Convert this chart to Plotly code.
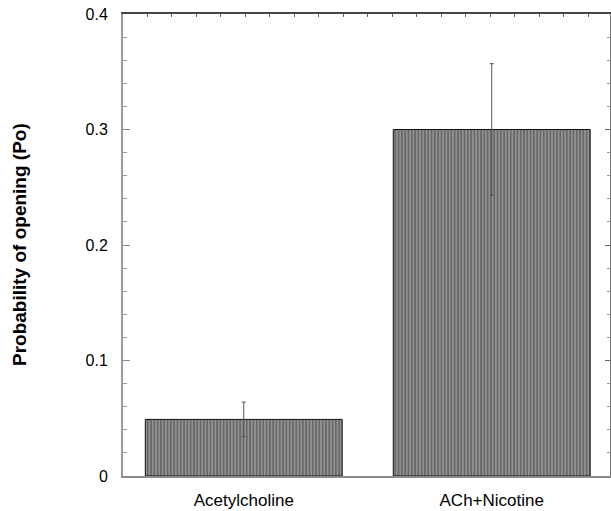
import plotly.graph_objects as go

categories = ["Acetylcholine", "ACh+Nicotine"]
values = [0.049, 0.300]
errors = [0.015, 0.057]
ytick_vals = [0, 0.1, 0.2, 0.3, 0.4]
ytick_text = ["0", "0.1", "0.2", "0.3", "0.4"]

FONT = "Liberation Sans, Arial, Helvetica, sans-serif"

fig = go.Figure()
fig.add_trace(go.Bar(
    x=categories, y=values,
    width=0.794,
    marker=dict(
        color="#d0d0d0",
        line=dict(color="#111111", width=1),
        pattern=dict(shape="|", fgcolor="#000000", size=3.3, solidity=0.8),
    ),
    error_y=dict(type="data", array=errors, visible=True,
                 color="#555555", thickness=1, width=2),
    showlegend=False,
))
# invisible trace for frame axes (top / right)
fig.add_trace(go.Scatter(x=[0], y=[0], xaxis="x2", yaxis="y2",
                         mode="markers", marker=dict(opacity=0),
                         showlegend=False, hoverinfo="skip"))

fig.update_layout(
    width=611, height=511,
    margin=dict(l=123, r=1, t=14, b=32),
    paper_bgcolor="white", plot_bgcolor="white",
    font=dict(family=FONT, size=16, color="black"),
    xaxis=dict(
        type="category", range=[-0.487, 1.477],
        showline=True, linecolor="#8a8a8a", linewidth=2,
        ticks="", showgrid=False, zeroline=False,
        ticklabelstandoff=8,
        tickfont=dict(size=17),
    ),
    yaxis=dict(
        range=[0, 0.4], tickvals=ytick_vals, ticktext=ytick_text,
        showline=True, linecolor="#9a9a9a", linewidth=2,
        ticks="inside", ticklen=7, tickcolor="#8a8a8a", tickwidth=1,
        minor=dict(ticks="inside", ticklen=4, dtick=0.02, tickcolor="#9a9a9a", showgrid=False),
        showgrid=False, zeroline=False,
        ticklabelstandoff=10,
        tickfont=dict(size=16),
    ),
    xaxis2=dict(
        overlaying="x", side="top", range=[0, 19.88], dtick=1, tick0=0,
        showline=True, linecolor="#444444", linewidth=1.5,
        ticks="inside", ticklen=3, tickcolor="#666666",
        showticklabels=False, showgrid=False, zeroline=False,
    ),
    yaxis2=dict(
        overlaying="y", side="right", range=[0, 0.4], dtick=0.1, tick0=0,
        showline=True, linecolor="#777777", linewidth=1,
        ticks="inside", ticklen=5, tickcolor="#666666",
        minor=dict(ticks="inside", ticklen=3, dtick=0.02, tickcolor="#999999", showgrid=False),
        showticklabels=False, showgrid=False, zeroline=False,
    ),
    annotations=[dict(
        text="<b>Probability of opening (Po)</b>",
        xref="paper", yref="paper", x=0, y=0.5,
        xanchor="center", yanchor="middle", xshift=-104,
        textangle=-90, showarrow=False,
        font=dict(size=19, family=FONT, color="black"),
    )],
)

fig.write_html("out.html", config={"displayModeBar": False},
               post_script="document.body.style.margin='0px';")
